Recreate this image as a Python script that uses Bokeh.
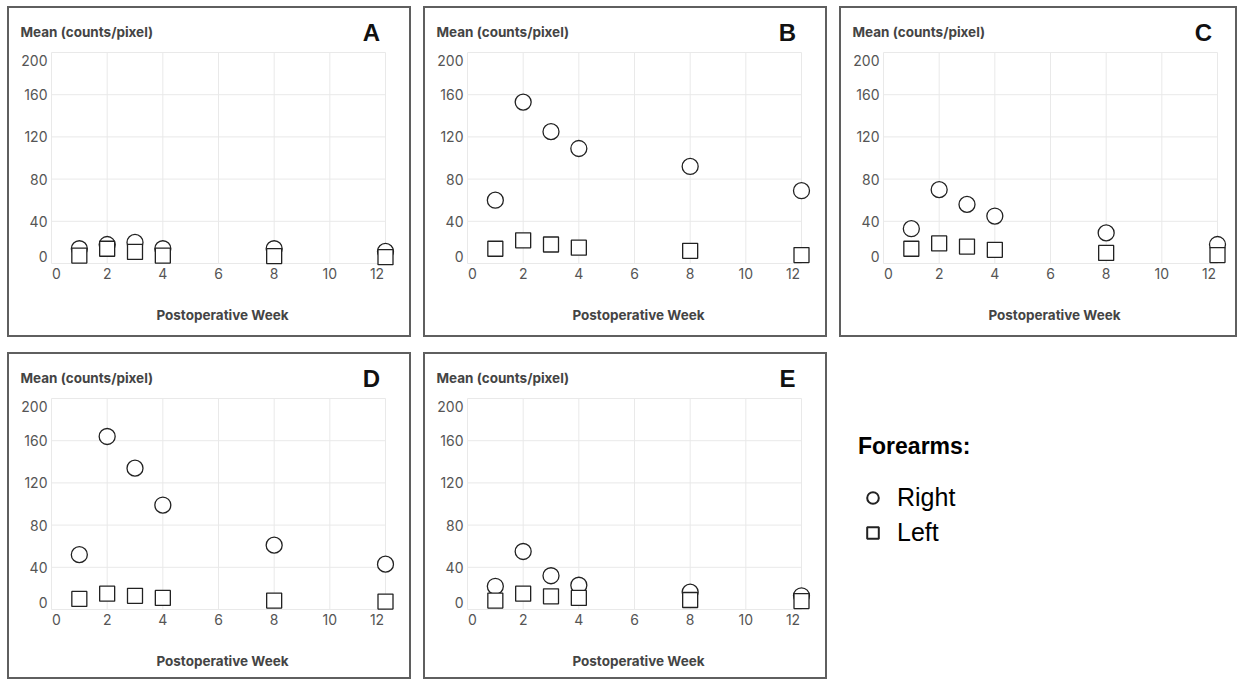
from bokeh.plotting import figure
from bokeh.layouts import row, column
from bokeh.models import Range1d, FixedTicker, Label, Legend, LegendItem
from bokeh.embed import file_html
from bokeh.resources import INLINE

# ---------------- data ----------------
weeks = [1, 2, 3, 4, 8, 12]
x_ticks = [0, 2, 4, 6, 8, 10, 12]
y_ticks = [0, 40, 80, 120, 160, 200]
y_title = "Mean (counts/pixel)"
x_title = "Postoperative Week"
legend_title = "Forearms:"
series_names = ["Right", "Left"]

right_A = [14, 18, 20, 14, 14, 11.5]
left_A = [7.5, 14, 11, 7.5, 7, 6]
right_B = [60, 153, 125, 109, 92, 69]
left_B = [14, 22, 18, 15, 12, 8]
right_C = [33, 70, 56, 45, 29, 18]
left_C = [14, 19, 16, 13, 10, 8]
right_D = [52, 164, 134, 99, 61, 43]
left_D = [10, 15, 13, 11, 8.5, 7.5]
right_E = [22, 55, 32, 23, 16.5, 13]
left_E = [8.5, 15, 12.5, 11, 9, 8]

# ---------------- layout constants ----------------
FONT = "Inter"
BORDER = 2
GAP_X = 12
GAP_Y = 15
TOP_H = 331
BOT_H = 327
W_AB = 404
W_C = 398
PX_X = 334 / 12.0
PX_Y = 211 / 200.0
FRAME_L = 41          # canvas px of frame left (x=0 line 1px inside)
FRAME_W = 344
FRAME_T = 43          # canvas px of frame top (y=200 line 1px inside)
PAD_TOP_PX = 1
PAD_BOTTOM_PX = 4
FRAME_H = 211 + PAD_TOP_PX + PAD_BOTTOM_PX
TITLE_PANEL_H = 15    # height taken by the first text band above the frame

x_start = x_ticks[0] - 1 / PX_X
x_end = x_start + FRAME_W / PX_X
y_end = y_ticks[-1] + PAD_TOP_PX / PX_Y
y_start = y_ticks[0] - PAD_BOTTOM_PX / PX_Y

# flush edge tick labels (label positions nudged inward, texts unchanged)
x_label_pos = [x_ticks[0] + 5 / PX_X] + x_ticks[1:-1] + [x_ticks[-1] - 8.5 / PX_X]
y_label_pos = [y_ticks[0] + 7 / PX_Y] + y_ticks[1:-1] + [y_ticks[-1] - 8 / PX_Y]

INK = "#222222"
GRID = "#e9e9e9"


def make_panel(letter, right_vals, left_vals, box_w, box_h):
    p = figure(
        width=box_w, height=box_h,
        min_border_left=FRAME_L,
        min_border_right=box_w - FRAME_L - FRAME_W,
        min_border_top=FRAME_T,
        min_border_bottom=box_h - FRAME_T - FRAME_H,
        x_range=Range1d(x_start, x_end), y_range=Range1d(y_start, y_end),
        toolbar_location=None, output_backend="svg",
        styles={"border": "2px solid #5f5f5f"},
    )
    p.outline_line_color = None
    p.xgrid.visible = False
    p.ygrid.visible = False

    # grid lines spanning exactly the tick extent
    p.segment(x0=x_ticks, y0=[y_ticks[0]] * len(x_ticks), x1=x_ticks, y1=[y_ticks[-1]] * len(x_ticks),
              line_color=GRID, line_width=1, level="underlay")
    p.segment(x0=[x_ticks[0]] * len(y_ticks), y0=y_ticks, x1=[x_ticks[-1]] * len(y_ticks), y1=y_ticks,
              line_color=GRID, line_width=1, level="underlay")

    for ax in (p.xaxis[0], p.yaxis[0]):
        ax.axis_line_color = None
        ax.major_tick_line_color = None
        ax.minor_tick_line_color = None
        ax.major_tick_out = 0
        ax.major_tick_in = 0
        ax.minor_tick_out = 0
        ax.major_label_text_font = FONT
        ax.major_label_text_font_size = "14px"
        ax.major_label_text_color = "#555555"
    p.xaxis.ticker = FixedTicker(ticks=x_label_pos)
    p.yaxis.ticker = FixedTicker(ticks=y_label_pos)
    p.xaxis.major_label_overrides = {pos: str(t) for pos, t in zip(x_label_pos, x_ticks)}
    p.yaxis.major_label_overrides = {pos: str(t) for pos, t in zip(y_label_pos, y_ticks)}
    p.xaxis.major_label_standoff = 0
    p.yaxis.major_label_standoff = 3
    p.xaxis.axis_label = x_title
    p.xaxis.axis_label_text_font = FONT
    p.xaxis.axis_label_text_font_style = "bold"
    p.xaxis.axis_label_text_font_size = "13.5px"
    p.xaxis.axis_label_text_color = "#444444"
    p.xaxis.axis_label_standoff = 25

    p.scatter(weeks, right_vals, marker="circle", size=16, fill_color="white",
              line_color=INK, line_width=1.3)
    p.scatter(weeks, left_vals, marker="square", size=15, fill_color="white",
              line_color=INK, line_width=1.3)

    # texts in the bands above the frame (x from frame left, y up from band bottom)
    p.add_layout(Label(x=13 - BORDER - FRAME_L, y=FRAME_T - (25 - BORDER),
                       x_units="screen", y_units="screen", text=y_title,
                       text_font=FONT, text_font_style="bold", text_font_size="13.5px",
                       text_color="#444444", text_align="left", text_baseline="middle"), "above")
    p.add_layout(Label(x=364 - BORDER - FRAME_L, y=FRAME_T - (27 - BORDER) - TITLE_PANEL_H,
                       x_units="screen", y_units="screen", text=letter,
                       text_font="Liberation Sans", text_font_style="bold",
                       text_font_size="24px", text_color="#111111",
                       text_align="center", text_baseline="middle"), "above")
    return p


pA = make_panel("A", right_A, left_A, W_AB, TOP_H)
pB = make_panel("B", right_B, left_B, W_AB, TOP_H)
pC = make_panel("C", right_C, left_C, W_C, TOP_H)
pD = make_panel("D", right_D, left_D, W_AB, BOT_H)
pE = make_panel("E", right_E, left_E, W_AB, BOT_H)

# legend panel (frame borders kept equal to the row's panels)
LEG_BOTTOM = BOT_H - FRAME_T - FRAME_H
pL = figure(width=W_C, height=BOT_H, min_border_left=0, min_border_top=FRAME_T,
            min_border_right=0, min_border_bottom=LEG_BOTTOM,
            x_range=Range1d(0, 1), y_range=Range1d(0, 1),
            toolbar_location=None, output_backend="svg")
pL.axis.visible = False
pL.grid.visible = False
pL.outline_line_color = None
nan = float("nan")
r_right = pL.scatter([nan], [nan], marker="circle", fill_color="white", line_color=INK, line_width=2)
r_left = pL.scatter([nan], [nan], marker="square", fill_color="white", line_color=INK, line_width=2)
LEG_TOP = 82
LEG_HEIGHT = 26 + 23 + 29 + 6 + 29
leg = Legend(items=[LegendItem(label=series_names[0], renderers=[r_right]),
                    LegendItem(label=series_names[1], renderers=[r_left])],
             location=(19, (BOT_H - LEG_BOTTOM) - (LEG_TOP + LEG_HEIGHT)), margin=0, padding=0,
             title=legend_title, title_text_font="Liberation Sans",
             title_text_font_style="bold", title_text_font_size="23px",
             title_text_color="#000000", title_standoff=23,
             label_text_font="Liberation Sans", label_text_font_size="25px",
             label_text_color="#000000", label_standoff=10,
             glyph_width=29, glyph_height=29, label_height=29, spacing=6,
             border_line_color=None, background_fill_alpha=0)
pL.add_layout(leg)

layout = column(row(pA, pB, pC, spacing=GAP_X), row(pD, pE, pL, spacing=GAP_X),
                spacing=GAP_Y, margin=(6, 0, 0, 7))

open("out.html", "w").write(file_html(layout, INLINE))
